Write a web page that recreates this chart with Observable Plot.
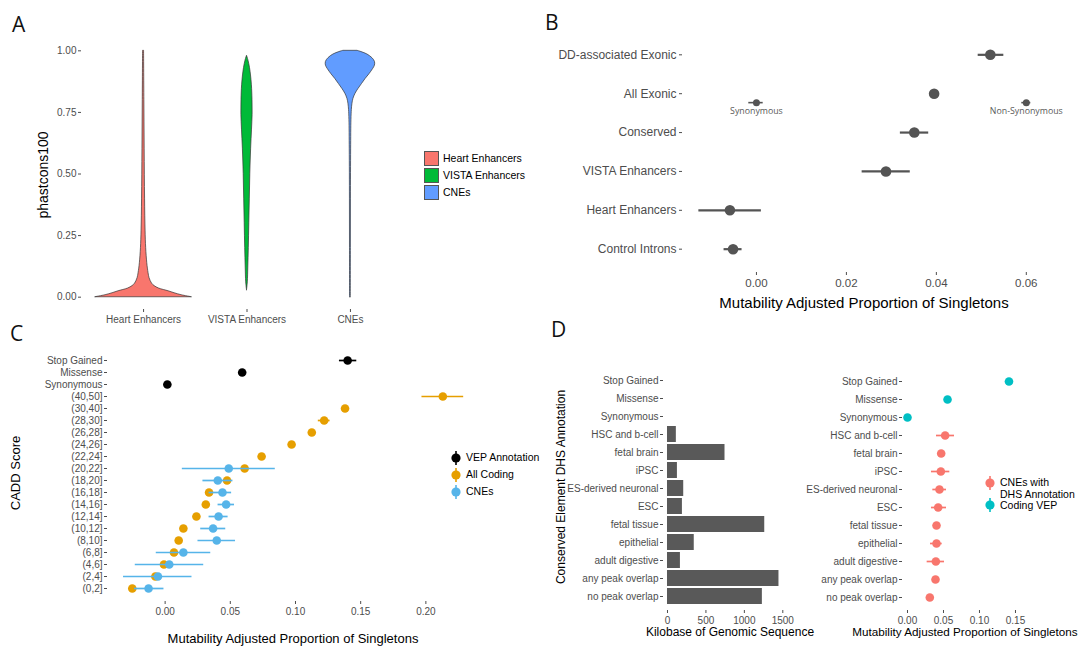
<!DOCTYPE html>
<html><head><meta charset="utf-8">
<script src="https://cdn.jsdelivr.net/npm/d3@7"></script>
<script src="https://cdn.jsdelivr.net/npm/@observablehq/plot@0.6"></script>
<style>
body{margin:0;background:#fff;}
#fig{position:relative;width:1082px;height:646px;overflow:hidden;font-family:"Liberation Sans",Arial,sans-serif;background:#fff;}
.t{position:absolute;white-space:nowrap;transform:translate(-50%,-50%);color:#000;line-height:1;}
.l{position:absolute;white-space:nowrap;transform:translate(0,-50%);color:#000;line-height:1.1;}
.letter{position:absolute;font-family:"Open Sans",sans-serif;font-size:21px;line-height:1;color:#111;}
</style></head><body><div id="fig"></div>
<script>
// ---------- Panel A: violin profiles [phastcons100, density] ----------
const violinCats = ["Heart Enhancers", "VISTA Enhancers", "CNEs"];
const violinColors = ["#F8766D", "#00BA38", "#619CFF"];
const heartProfile = [[0,48],[0.008,38],[0.016,31],[0.024,25],[0.035,15.5],[0.045,11],[0.055,8.5],[0.077,6],[0.097,5],[0.138,3.7],[0.2,2.6],[0.27,2],[0.4,1.5],[0.6,1.1],[0.8,0.8],[1.0,0.5]];
const vistaProfile = [[0.028,0],[0.06,0.8],[0.12,1.3],[0.2,1.8],[0.3,2.3],[0.4,2.8],[0.5,3.3],[0.6,4.1],[0.68,5],[0.74,5.6],[0.8,5.5],[0.86,4.9],[0.9,4],[0.93,3],[0.96,1.5],[0.98,0]];
const cneProfile = [[0,0.4],[0.2,0.45],[0.4,0.5],[0.6,0.7],[0.72,1],[0.76,1.4],[0.785,2],[0.805,3],[0.825,5],[0.845,8],[0.865,11.5],[0.885,15],[0.905,19],[0.925,22.5],[0.94,24.5],[0.955,24.5],[0.97,22],[0.985,17],[0.995,11],[1.0,7]];

// ---------- Panel B ----------
const bCats = ["Control Introns", "Heart Enhancers", "VISTA Enhancers", "Conserved", "All Exonic", "DD-associated Exonic"];
const bMean = [-0.0052, -0.0059, 0.0288, 0.0351, 0.0395, 0.0520];
const bLo   = [-0.0072, -0.0128, 0.0235, 0.0320, 0.0388, 0.0493];
const bHi   = [-0.0032,  0.0011, 0.0342, 0.0383, 0.0402, 0.0550];
const bSubLabels = ["Synonymous", "Non-Synonymous"];
const bSubMean = [0.0000, 0.0600];
const bSubLo   = [-0.0017, 0.0590];
const bSubHi   = [0.0015, 0.0610];
const bSubRow = 4.77;

// ---------- Panel C ----------
const caddCats = ["Stop Gained","Missense","Synonymous","(40,50]","(30,40]","(28,30]","(26,28]","(24,26]","(22,24]","(20,22]","(18,20]","(16,18]","(14,16]","(12,14]","(10,12]","(8,10]","(6,8]","(4,6]","(2,4]","(0,2]"];
const cSeries = ["VEP Annotation", "All Coding", "CNEs"];
const cColors = ["#000000", "#E69F00", "#56B4E9"];
const vepCats = ["Stop Gained","Missense","Synonymous"];
const vepMean = [0.1400, 0.0591, 0.0017];
const vepLo   = [0.1337, 0.0580, 0.0008];
const vepHi   = [0.1470, 0.0602, 0.0026];
const codingCats = ["(40,50]","(30,40]","(28,30]","(26,28]","(24,26]","(22,24]","(20,22]","(18,20]","(16,18]","(14,16]","(12,14]","(10,12]","(8,10]","(6,8]","(4,6]","(2,4]","(0,2]"];
const codingMean = [0.2130, 0.1380, 0.1220, 0.1125, 0.0970, 0.0740, 0.0610, 0.0475, 0.0337, 0.0312, 0.0240, 0.0140, 0.0104, 0.0068, -0.0009, -0.0075, -0.0252];
const codingLo   = [0.1970, 0.1355, 0.1175, 0.1100, 0.0950, 0.0720, 0.0585, 0.0450, 0.0315, 0.0292, 0.0222, 0.0122, 0.0088, 0.0050, -0.0027, -0.0093, -0.0272];
const codingHi   = [0.2290, 0.1405, 0.1265, 0.1150, 0.0990, 0.0760, 0.0635, 0.0500, 0.0359, 0.0332, 0.0258, 0.0158, 0.0120, 0.0086, 0.0009, -0.0057, -0.0232];
const cneCats = ["(20,22]","(18,20]","(16,18]","(14,16]","(12,14]","(10,12]","(8,10]","(6,8]","(4,6]","(2,4]","(0,2]"];
const cneMean = [0.0488, 0.0404, 0.0440, 0.0468, 0.0410, 0.0368, 0.0396, 0.0140, 0.0032, -0.0055, -0.0127];
const cneLo   = [0.0132, 0.0290, 0.0337, 0.0406, 0.0337, 0.0273, 0.0252, -0.0068, -0.0229, -0.0319, -0.0235];
const cneHi   = [0.0845, 0.0520, 0.0510, 0.0532, 0.0483, 0.0465, 0.0540, 0.0350, 0.0296, 0.0206, -0.0009];

// ---------- Panel D ----------
const dhsCats = ["Stop Gained","Missense","Synonymous","HSC and b-cell","fetal brain","iPSC","ES-derived neuronal","ESC","fetal tissue","epithelial","adult digestive","any peak overlap","no peak overlap"];
const dhsBarCats = ["HSC and b-cell","fetal brain","iPSC","ES-derived neuronal","ESC","fetal tissue","epithelial","adult digestive","any peak overlap","no peak overlap"];
const dhsKb = [115, 748, 129, 211, 194, 1265, 348, 168, 1450, 1234];
const dCneMean = [0.0523, 0.0468, 0.0463, 0.0444, 0.0426, 0.0403, 0.0403, 0.0394, 0.0389, 0.0310];
const dCneLo   = [0.0403, 0.0440, 0.0333, 0.0352, 0.0333, 0.0366, 0.0320, 0.0273, 0.0365, 0.0285];
const dCneHi   = [0.0653, 0.0496, 0.0588, 0.0542, 0.0542, 0.0440, 0.0482, 0.0514, 0.0413, 0.0335];
const dVepCats = ["Stop Gained","Missense","Synonymous"];
const dVepMean = [0.1410, 0.0556, 0.0000];
const dVepLo   = [0.1360, 0.0530, -0.0015];
const dVepHi   = [0.1470, 0.0582, 0.0015];
const dSeries = ["CNEs with\nDHS Annotation", "Coding VEP"];
const dColors = ["#F8766D", "#00BFC4"];

// ---------- helpers ----------
const fig = document.getElementById("fig");
const FONT = "Liberation Sans, Arial, sans-serif";
const GRAY = "#4d4d4d";
function place(svg, left, top) {
  svg.style.position = "absolute";
  svg.style.left = left + "px";
  svg.style.top = top + "px";
  svg.style.overflow = "visible";
  svg.style.maxWidth = "none";
  fig.appendChild(svg);
}
function txt(s, x, y, size, rotate) {
  const d = document.createElement("div");
  d.className = "t";
  d.textContent = s;
  d.style.left = x + "px"; d.style.top = y + "px"; d.style.fontSize = size + "px";
  if (rotate) d.style.transform = "translate(-50%,-50%) rotate(-90deg)";
  fig.appendChild(d);
}
function letter(s, x, y) {
  const d = document.createElement("div");
  d.className = "letter"; d.textContent = s;
  d.style.left = x + "px"; d.style.top = y + "px";
  fig.appendChild(d);
}
function rangeKey(x, y, color) {
  const ns = "http://www.w3.org/2000/svg";
  const s = document.createElementNS(ns, "svg");
  s.setAttribute("width", 16); s.setAttribute("height", 18);
  s.style.position = "absolute"; s.style.left = (x - 8) + "px"; s.style.top = (y - 9) + "px";
  s.innerHTML = `<line x1="8" x2="8" y1="2" y2="16" stroke="${color}" stroke-width="1.6"/><circle cx="8" cy="9" r="4.6" fill="${color}"/>`;
  fig.appendChild(s);
}
function label(s, x, y, size) {
  const d = document.createElement("div");
  d.className = "l"; d.textContent = s;
  d.style.left = x + "px"; d.style.top = y + "px"; d.style.fontSize = size + "px";
  fig.appendChild(d);
}
const baseStyle = (fs) => ({fontFamily: FONT, fontSize: fs + "px", color: GRAY, background: "transparent"});

// ---------- Panel A ----------
const pxPerCat = 103.4;
const violinRows = [];
[heartProfile, vistaProfile, cneProfile].forEach((prof, i) => {
  prof.forEach(([p, dens]) => violinRows.push({cat: violinCats[i], pos: i + 1, p, dens}));
});
const plotA = Plot.plot({
  width: 540, height: 330, marginLeft: 81, marginRight: 128, marginTop: 38, marginBottom: 21,
  style: baseStyle(10),
  x: {domain: [0.4, 3.6]},
  y: {domain: [-0.05, 1.05]},
  marks: [
    Plot.axisY({ticks: [0, 0.25, 0.5, 0.75, 1], tickFormat: d3.format(".2f"), tickSize: 3, tickPadding: 2, label: null}),
    Plot.axisX({ticks: [1, 2, 3], tickFormat: i => violinCats[i - 1], tickSize: 3, tickPadding: 3, label: null}),
    ...violinCats.map((c, i) => Plot.areaX(violinRows.filter(d => d.cat === c), {
      y: "p", x1: d => d.pos - d.dens / pxPerCat, x2: d => d.pos + d.dens / pxPerCat,
      fill: violinColors[i], stroke: "#333", strokeWidth: 0.7, curve: "catmull-rom"
    }))
  ]
});
place(plotA, 0, 0);
txt("phastcons100", 43, 175, 14, true);
violinCats.forEach((c, i) => {
  const sw = document.createElement("div");
  sw.style.cssText = `position:absolute;left:424px;top:${151 + 17 * i}px;width:15px;height:15px;background:${violinColors[i]};box-sizing:border-box;border:0.8px solid #555;`;
  fig.appendChild(sw);
  label(c, 443, 159 + 17 * i, 10.5);
});

// ---------- Panel B ----------
const bRows = bCats.map((c, i) => ({pos: i + 1, mean: bMean[i], lo: bLo[i], hi: bHi[i]}));
const bSubRows = bSubLabels.map((s, i) => ({label: s, pos: bSubRow, mean: bSubMean[i], lo: bSubLo[i], hi: bSubHi[i]}));
const plotB = Plot.plot({
  width: 542, height: 330, marginLeft: 142, marginRight: 40, marginTop: 31, marginBottom: 58,
  style: baseStyle(12),
  x: {domain: [-0.01644, 0.0636]},
  y: {domain: [0.4, 6.6]},
  marks: [
    Plot.axisY({ticks: [1, 2, 3, 4, 5, 6], tickFormat: i => bCats[i - 1], tickSize: 3, tickPadding: 3, label: null, fontSize: 12}),
    Plot.axisX({ticks: [0, 0.02, 0.04, 0.06], tickFormat: d3.format(".2f"), tickSize: 3, tickPadding: 3, label: null, fontSize: 11.5}),
    Plot.ruleY(bRows, {y: "pos", x1: "lo", x2: "hi", stroke: "#545454", strokeWidth: 2.2}),
    Plot.dot(bRows, {x: "mean", y: "pos", r: 5.3, fill: "#545454"}),
    Plot.ruleY(bSubRows, {y: "pos", x1: "lo", x2: "hi", stroke: "#545454", strokeWidth: 1.6}),
    Plot.dot(bSubRows, {x: "mean", y: "pos", r: 3.5, fill: "#545454"}),
    Plot.text(bSubRows, {x: "mean", y: "pos", text: "label", dy: 9, fontSize: 8.8, fill: "#5a5a5a", fontFamily: "Open Sans, sans-serif"})
  ]
});
place(plotB, 540, 0);
txt("Mutability Adjusted Proportion of Singletons", 864, 302, 15);

// ---------- Panel C ----------
const mk = (cats, m, lo, hi, s) => cats.map((c, i) => ({cat: c, mean: m[i], lo: lo[i], hi: hi[i], series: s}));
const vepRows = mk(vepCats, vepMean, vepLo, vepHi, cSeries[0]);
const codingRows = mk(codingCats, codingMean, codingLo, codingHi, cSeries[1]);
const cneRows = mk(cneCats, cneMean, cneLo, cneHi, cSeries[2]);
const plotC = Plot.plot({
  width: 540, height: 316, marginLeft: 107, marginRight: 60, marginTop: 16, marginBottom: 45,
  style: baseStyle(10),
  x: {domain: [-0.0442, 0.2419]},
  y: {type: "point", domain: caddCats, padding: 0.6},
  color: {domain: cSeries, range: cColors},
  marks: [
    Plot.axisY({tickSize: 3, tickPadding: 2, label: null}),
    Plot.axisX({ticks: [0, 0.05, 0.1, 0.15, 0.2], tickFormat: d3.format(".2f"), tickSize: 3, tickPadding: 3, label: null}),
    ...[vepRows, codingRows, cneRows].flatMap(rows => [
      Plot.ruleY(rows, {y: "cat", x1: "lo", x2: "hi", stroke: "series", strokeWidth: 1.7}),
      Plot.dot(rows, {x: "mean", y: "cat", r: 4.3, fill: "series"})
    ])
  ]
});
place(plotC, 0, 330);
txt("CADD Score", 15, 473, 13, true);
txt("Mutability Adjusted Proportion of Singletons", 293, 638, 13);
cSeries.forEach((s, i) => { rangeKey(455.5, 458 + 17 * i, cColors[i]); label(s, 466, 458 + 17 * i, 10.5); });

// ---------- Panel D left ----------
const barRows = dhsBarCats.map((c, i) => ({cat: c, kb: dhsKb[i]}));
const plotD1 = Plot.plot({
  width: 260, height: 316, marginLeft: 123, marginRight: 16, marginTop: 37, marginBottom: 36,
  style: baseStyle(10),
  x: {domain: [-52, 1522]},
  y: {type: "band", domain: dhsCats, paddingInner: 0.1, paddingOuter: 0.15},
  marks: [
    Plot.axisY({tickSize: 3, tickPadding: 2, label: null}),
    Plot.axisX({ticks: [0, 500, 1000, 1500], tickSize: 3, tickPadding: 3, label: null, tickFormat: d3.format("d")}),
    Plot.barX(barRows, {y: "cat", x: "kb", fill: "#595959"})
  ]
});
place(plotD1, 540, 330);
txt("Conserved Element DHS Annotation", 561, 487, 12, true);
txt("Kilobase of Genomic Sequence", 730, 632, 12);

// ---------- Panel D right ----------
const dCneRows = dhsBarCats.map((c, i) => ({cat: c, mean: dCneMean[i], lo: dCneLo[i], hi: dCneHi[i], series: dSeries[0]}));
const dVepRows = dVepCats.map((c, i) => ({cat: c, mean: dVepMean[i], lo: dVepLo[i], hi: dVepHi[i], series: dSeries[1]}));
const plotD2 = Plot.plot({
  width: 282, height: 316, marginLeft: 102, marginRight: 64, marginTop: 37, marginBottom: 36,
  style: baseStyle(10),
  x: {domain: [-0.00694, 0.1542]},
  y: {type: "point", domain: dhsCats, padding: 0.6},
  color: {domain: dSeries, range: dColors},
  marks: [
    Plot.axisY({tickSize: 3, tickPadding: 2, label: null}),
    Plot.axisX({ticks: [0, 0.05, 0.1, 0.15], tickFormat: d3.format(".2f"), tickSize: 3, tickPadding: 3, label: null}),
    ...[dCneRows, dVepRows].flatMap(rows => [
      Plot.ruleY(rows, {y: "cat", x1: "lo", x2: "hi", stroke: "series", strokeWidth: 1.7}),
      Plot.dot(rows, {x: "mean", y: "cat", r: 4.3, fill: "series"})
    ])
  ]
});
place(plotD2, 800, 330);
txt("Mutability Adjusted Proportion of Singletons", 965, 632, 11.7);
rangeKey(990, 483, dColors[0]);
label("CNEs with", 1000, 483, 10.5);
label("DHS Annotation", 1000, 494.5, 10.5);
rangeKey(990, 505, dColors[1]);
label("Coding VEP", 1000, 505.5, 10.5);

// ---------- panel letters ----------
letter("A", 12, 14);
letter("B", 545, 12);
letter("C", 10, 323);
letter("D", 551, 319);
</script></body></html>
